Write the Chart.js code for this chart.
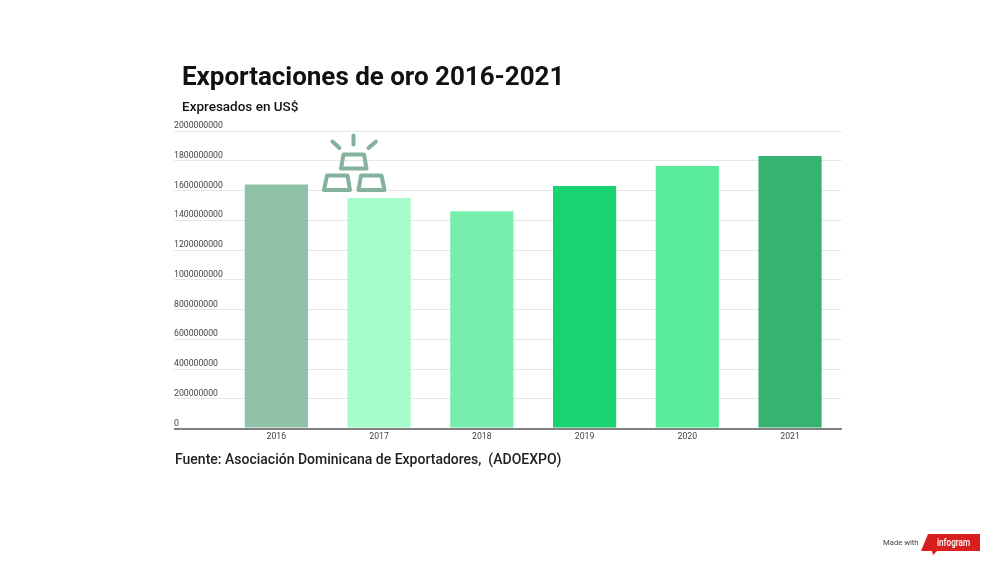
<!DOCTYPE html>
<html><head><meta charset="utf-8">
<script src="https://cdn.jsdelivr.net/npm/chart.js@4"></script>
<style>
html,body{margin:0;padding:0;background:#fff;width:1000px;height:562px;overflow:hidden;font-family:Roboto,sans-serif}
.t{position:absolute;white-space:nowrap}
#wrap{position:absolute;left:0;top:0;width:1000px;height:562px}
</style></head><body>
<div id="wrap"><canvas id="c" width="1000" height="562"></canvas></div>
<div class="t" style="left:182px;top:60px;font-size:26px;font-weight:700;color:#111;line-height:32px;letter-spacing:-.03px">Exportaciones de oro 2016-2021</div>
<div class="t" style="left:182px;top:96.5px;font-size:13.5px;font-weight:500;color:#111;line-height:18px">Expresados en US$</div>
<div class="t" style="left:175px;top:450px;font-size:14px;font-weight:500;color:#222;line-height:18px">Fuente: Asociación Dominicana de Exportadores,&nbsp; (ADOEXPO)</div>
<div class="t" style="left:883px;top:537px;font-size:7.7px;color:#444;line-height:12px">Made with</div>
<svg class="t" style="left:0;top:0" width="1000" height="562" viewBox="0 0 1000 562">
<polygon points="928,534 980,534 980,551 937,551 933,555 932,551 921,551" fill="#d81e1e"/>
<text x="937" y="546" font-family="Roboto" font-size="10.5" font-weight="500" fill="#fff" textLength="33" lengthAdjust="spacingAndGlyphs">infogram</text>
<g fill="none" stroke="#85b29c" stroke-width="4" stroke-linejoin="round" stroke-linecap="round">
<polygon points="343.5,154.5 364,154.5 366.5,168.5 341,168.5"/>
<polygon points="327,175.5 347.5,175.5 350,190 324,190"/>
<polygon points="361,175.5 381.5,175.5 384.5,190 358.5,190"/>
<line x1="353.5" y1="135.5" x2="353.5" y2="144.5"/>
<line x1="332.5" y1="141.5" x2="339.5" y2="148"/>
<line x1="376" y1="141.5" x2="368.5" y2="148"/>
</g>
</svg>
<script>
const categories=['2016','2017','2018','2019','2020','2021'];
const exportValues=[1640000000,1549000000,1461000000,1630000000,1764000000,1832000000];
const barColors=['#8fc2a8','#a5fbca','#78eead','#18d36f','#58ec9c','#36b371'];
const isZero=c=>c.tick&&c.tick.value===0;
const lineAt=c=>isZero(c)?'#808080':'#e6e6e6';
const widthAt=c=>isZero(c)?2:1;
new Chart(document.getElementById('c'),{
 type:'bar',
 data:{labels:categories,datasets:[{data:exportValues,backgroundColor:barColors,borderWidth:0,categoryPercentage:0.615,barPercentage:1}]},
 options:{
  responsive:false,animation:false,devicePixelRatio:1,
  layout:{padding:{left:174,top:131,right:158.6,bottom:562-445}},
  plugins:{legend:{display:false},tooltip:{enabled:false}},
  scales:{
   x:{grid:{display:false,drawTicks:false},border:{color:'#808080',width:2},
      ticks:{color:'#444',font:{family:'Roboto',size:8.7},padding:3,maxRotation:0}},
   y:{min:0,max:2000000000,afterFit(s){s.width=51;},
      grid:{color:lineAt,lineWidth:widthAt,tickLength:51,tickColor:lineAt,tickWidth:widthAt},
      border:{display:false},
      ticks:{stepSize:200000000,color:'#444',font:{family:'Roboto',size:8.7},mirror:true,padding:-51,labelOffset:-5,
             callback:v=>String(v)}}
  }
 }
});
</script>
</body></html>
